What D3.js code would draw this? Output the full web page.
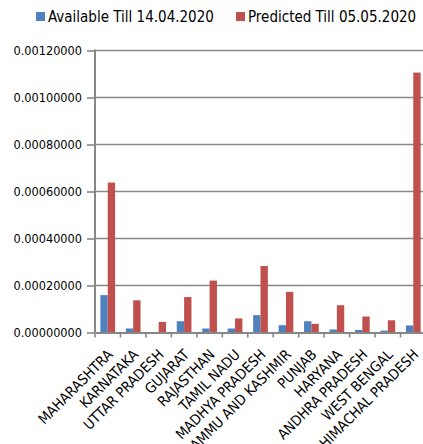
<!DOCTYPE html>
<html>
<head>
<meta charset="utf-8">
<script src="https://cdn.jsdelivr.net/npm/d3@7"></script>
<style>
  html, body { margin: 0; padding: 0; background: #fff; overflow: hidden; }
  svg text { font-family: "DejaVu Sans Condensed", "DejaVu Sans", sans-serif; font-stretch: condensed; fill: #000; }
</style>
</head>
<body>
<svg id="chart" width="423" height="444"></svg>
<script>
// States in display order
const states = [
  "MAHARASHTRA", "KARNATAKA", "UTTAR PRADESH", "GUJARAT", "RAJASTHAN",
  "TAMIL NADU", "MADHYA PRADESH", "JAMMU AND KASHMIR", "PUNJAB", "HARYANA",
  "ANDHRA PRADESH", "WEST BENGAL", "HIMACHAL PRADESH"
];
// Series values
const available = [
  0.000159, 0.000017, 0.000002, 0.000048, 0.000017,
  0.000017, 0.000074, 0.000031, 0.000048, 0.000013,
  0.000011, 0.000008, 0.000030
];
const predicted = [
  0.000638, 0.000137, 0.000045, 0.000151, 0.000221,
  0.000060, 0.000283, 0.000173, 0.000037, 0.000116,
  0.000068, 0.000052, 0.001106
];
const seriesNames = ["Available Till 14.04.2020", "Predicted Till 05.05.2020"];
const seriesColors = ["#4f81bd", "#c0504d"];
const yTicks = [0, 0.0002, 0.0004, 0.0006, 0.0008, 0.0010, 0.0012];

const svg = d3.select("#chart");
const plotLeft = 95, plotRight = 426, plotTop = 50.5, plotBottom = 332.5;
const axisGrey = "#878787";

const x = d3.scaleBand().domain(states).range([plotLeft, plotRight]).paddingInner(0).paddingOuter(0);
const xSub = d3.scaleBand().domain([0, 1]).range([0, x.bandwidth()]).paddingInner(0).paddingOuter(0.73);
const y = d3.scaleLinear().domain([0, 0.0012]).range([plotBottom, plotTop]);

// Horizontal gridlines
svg.append("g")
  .selectAll("line").data(yTicks.slice(1)).join("line")
  .attr("x1", plotLeft).attr("x2", plotRight)
  .attr("y1", d => y(d)).attr("y2", d => y(d))
  .attr("stroke", axisGrey).attr("stroke-width", 1.6);

// Bars
const rows = states.map((s, i) => ({ s, v: [available[i], predicted[i]] }));
const groups = svg.append("g").selectAll("g").data(rows).join("g")
  .attr("transform", d => `translate(${x(d.s)},0)`);
groups.selectAll("rect").data(d => d.v.map((v, k) => ({ v, k }))).join("rect")
  .attr("x", d => xSub(d.k))
  .attr("width", xSub.bandwidth())
  .attr("y", d => y(d.v))
  .attr("height", d => plotBottom - y(d.v))
  .attr("fill", d => seriesColors[d.k]);

// Y axis
const yAxis = d3.axisLeft(y).tickValues(yTicks).tickFormat(d3.format(".8f")).tickSize(8).tickPadding(5);
const gy = svg.append("g").attr("transform", `translate(${plotLeft},0)`).call(yAxis);
gy.select(".domain").attr("stroke", axisGrey).attr("stroke-width", 2).attr("d", `M0,${plotTop - 1}V${plotBottom}`);
gy.selectAll(".tick line").attr("stroke", axisGrey).attr("stroke-width", 1.6);
gy.selectAll(".tick text").style("font-size", "12.6px");

// X axis
const xAxis = d3.axisBottom(x).tickSize(0).tickFormat(d => d);
const gx = svg.append("g").attr("transform", `translate(0,${plotBottom})`).call(xAxis);
gx.select(".domain").attr("stroke", axisGrey).attr("stroke-width", 2);
gx.selectAll(".tick text")
  .style("font-size", "14.3px")
  .attr("text-anchor", "end")
  .attr("dy", null).attr("y", 0)
  .attr("transform", "translate(6,23) rotate(-45)");
// boundary ticks between categories
svg.append("g").selectAll("line").data(states).join("line")
  .attr("x1", d => x(d)).attr("x2", d => x(d))
  .attr("y1", plotBottom).attr("y2", plotBottom + 5)
  .attr("stroke", axisGrey).attr("stroke-width", 1.6);

// Legend
const legend = svg.append("g");
const legendX = [36, 236];
seriesNames.forEach((name, k) => {
  legend.append("rect").attr("x", legendX[k]).attr("y", 12).attr("width", 9).attr("height", 9)
    .attr("fill", seriesColors[k]);
  legend.append("text").attr("x", legendX[k] + 12).attr("y", 21.5)
    .style("font-size", "15px").text(name);
});
</script>
</body>
</html>
